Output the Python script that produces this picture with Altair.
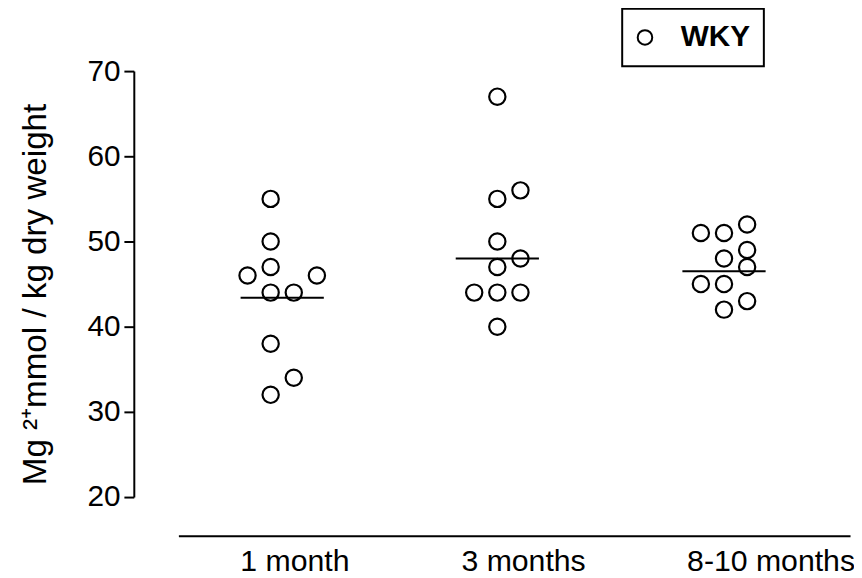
import json
import altair as alt
import pandas as pd

# ---- data ----
groups = ["1 month", "3 months", "8-10 months"]
strain = "WKY"

values_1m = [55, 50, 47, 46, 46, 44, 44, 38, 34, 32]
cols_1m = [0, 0, 0, -1, 2, 0, 1, 0, 1, 0]          # jitter column of each circle

values_3m = [67, 55, 56, 50, 48, 47, 44, 44, 44, 40]
cols_3m = [0, 0, 1, 0, 1, 0, -1, 0, 1, 0]

values_810 = [51, 51, 52, 48, 49, 47, 45, 45, 42, 43]
cols_810 = [-1, 0, 1, 0, 1, 1, -1, 0, 0, 1]

mean_lines = [43.4, 48.0, 46.5]

y_ticks = [20, 30, 40, 50, 60, 70]

# ---- tables ----
rows = []
for gi, (vals, cols) in enumerate([(values_1m, cols_1m), (values_3m, cols_3m), (values_810, cols_810)]):
    for v, c in zip(vals, cols):
        rows.append({"group": groups[gi], "gi": gi, "col": c, "value": v, "strain": strain})
df = pd.DataFrame(rows)

mrows = []
for gi, m in enumerate(mean_lines):
    sub = df[df.gi == gi]
    mid = (sub.col.min() + sub.col.max()) / 2.0
    mrows.append({"gi": gi, "mid": mid, "mean": m})
dfm = pd.DataFrame(mrows)

STEP = 0.102
FONT = "Liberation Sans"

x_scale = alt.Scale(domain=[-0.407, 2.556], nice=False, zero=False)
y_scale = alt.Scale(domain=[20, 70], nice=False, zero=False)

label_expr = json.dumps(groups) + "[datum.value]"

x_axis = alt.Axis(
    values=[0, 1, 2], labelExpr=label_expr, ticks=False, grid=False,
    domainColor="black", domainWidth=2, offset=39, title=None,
    labelFont=FONT, labelFontSize=30.5, labelColor="black", labelPadding=11,
    labelFlush=False, labelOverlap=False,
    labelOffset={"condition": [{"test": "datum.value == 2", "value": 47},
                               {"test": "datum.value == 1", "value": 26}],
                 "value": 24},
)

y_axis = alt.Axis(
    values=y_ticks, grid=False, domainColor="black", domainWidth=2,
    tickColor="black", tickWidth=2, tickSize=10, offset=45,
    labelFont=FONT, labelFontSize=30, labelColor="black", labelPadding=4,
    title="Mg \u00b2\u207ammol / kg dry weight",
    titleFont=FONT, titleFontSize=33.5, titleFontWeight="normal", titleColor="black",
    titleAngle=270, titleX=-89, titleY=225, titleAlign="center", titleBaseline="alphabetic",
)

points = alt.Chart(df).transform_calculate(
    xp=f"datum.gi + datum.col * {STEP}"
).mark_point(shape="circle", filled=False, size=270, strokeWidth=2.2, opacity=1).encode(
    x=alt.X("xp:Q", scale=x_scale, axis=x_axis),
    y=alt.Y("value:Q", scale=y_scale, axis=y_axis),
    color=alt.Color(
        "strain:N", scale=alt.Scale(range=["black"]),
        legend=alt.Legend(
            title=None, orient="none", legendX=448, legendY=-63,
            symbolType="circle", symbolSize=216, symbolStrokeWidth=2, symbolOffset=-6,
            labelFont=FONT, labelFontSize=30, labelFontWeight="bold", labelColor="black",
            labelOffset=21, padding=14, strokeColor="black",
        ),
    ),
)

means = alt.Chart(dfm).transform_calculate(
    xm=f"datum.gi + datum.mid * {STEP}"
).mark_tick(orient="horizontal", size=84, thickness=2, color="black", opacity=1).encode(
    x=alt.X("xm:Q", scale=x_scale),
    y=alt.Y("mean:Q", scale=y_scale),
)

chart = alt.layer(points, means).properties(
    width=678, height=430,
    autosize=alt.AutoSizeParams(type="none"),
    padding={"left": 172, "top": 61, "right": 4, "bottom": 79},
    background="white",
).configure_view(stroke=None).configure_legend(strokeWidth=2)

chart.save("out.html", embed_options={"renderer": "svg", "actions": False})
